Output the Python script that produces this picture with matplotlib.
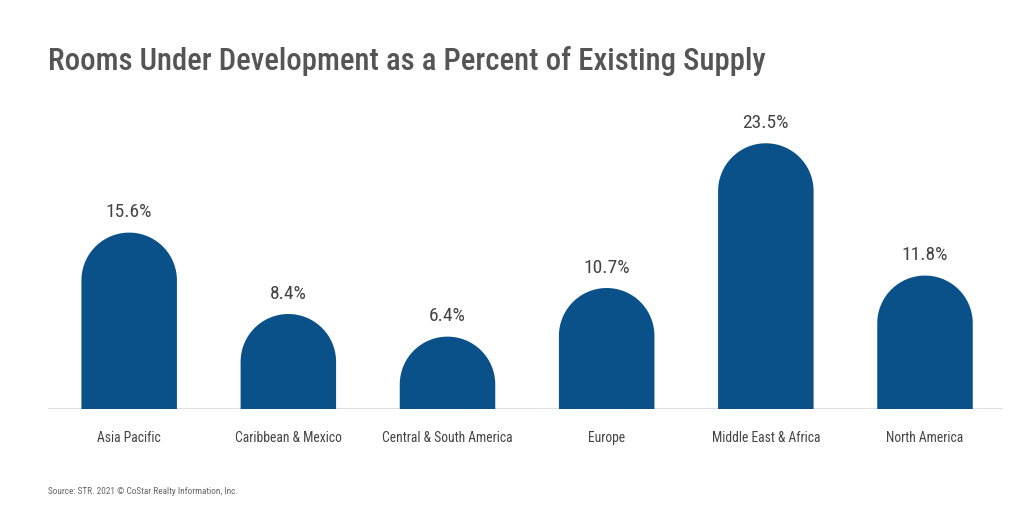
import numpy as np
import matplotlib
matplotlib.use("Agg")
import matplotlib.pyplot as plt
from matplotlib import font_manager as fm
from matplotlib.patches import Polygon

categories = ["Asia Pacific", "Caribbean & Mexico", "Central & South America",
              "Europe", "Middle East & Africa", "North America"]
values = [15.6, 8.4, 6.4, 10.7, 23.5, 11.8]
title = "Rooms Under Development as a Percent of Existing Supply"
source = "Source: STR. 2021 \u00a9 CoStar Realty Information, Inc."

BAR_COLOR = "#0b5189"
TEXT_GRAY = "#555555"

# pick a narrow family if one is installed
names = {f.name for f in fm.fontManager.ttflist}
family = "DejaVu Sans"
stretch = "normal"
for n in ["Roboto Condensed", "Liberation Sans Narrow", "Open Sans Condensed"]:
    if n in names:
        family = n
        break
else:
    if any(f.name == "DejaVu Sans" and f.stretch == "condensed" for f in fm.fontManager.ttflist):
        stretch = "condensed"

fig = plt.figure(figsize=(10.24, 5.09), dpi=100)
ax = fig.add_axes([48 / 1024, 100 / 509, 955 / 1024, 294 / 509])
ax.set_xlim(-0.51, 5.49)
ax.set_ylim(0, 26)
ax.axis("off")
ax.axhline(0, color="#d9d9d9", lw=1.2, zorder=1)

renderer = fig.canvas.get_renderer()


def fit_width(t, target_px):
    # scale font size so the text spans target_px
    for _ in range(3):
        w = t.get_window_extent(renderer).width
        t.set_fontsize(t.get_fontsize() * target_px / w)


# rounded top bars
width = 0.6
px_per_x = ax.transData.transform((1, 0))[0] - ax.transData.transform((0, 0))[0]
px_per_y = ax.transData.transform((0, 1))[1] - ax.transData.transform((0, 0))[1]
ry = (width / 2) * px_per_x / px_per_y
theta = np.linspace(np.pi, 0, 60)
for i, v in enumerate(values):
    x0, x1 = i - width / 2, i + width / 2
    yc = v - ry
    arc = np.column_stack([i + width / 2 * np.cos(theta), yc + ry * np.sin(theta)])
    pts = np.vstack([[x0, 0], arc, [x1, 0]])
    ax.add_patch(Polygon(pts, closed=True, facecolor=BAR_COLOR, edgecolor="none", zorder=2))
    ax.annotate(f"{v}%", (i, v), xytext=(0, 14.5), textcoords="offset points",
                ha="center", va="center", fontsize=14, color="#444444",
                family=family, stretch=stretch)

for i, c in enumerate(categories):
    ax.annotate(c, (i, 0), xytext=(0, -21), textcoords="offset points",
                ha="center", va="center", fontsize=9.8, color="#444444",
                family=family, stretch=stretch)

tt = fig.text(48 / 1024, 1 - 61 / 509, title, ha="left", va="center",
              fontsize=24, color=TEXT_GRAY, weight="medium",
              family=family, stretch=stretch)
fit_width(tt, 717)

st = fig.text(48 / 1024, 1 - 492 / 509, source, ha="left", va="center",
              fontsize=7, color="#666666", family=family, stretch=stretch)
fit_width(st, 189)

fig.savefig("out.png", dpi=100, facecolor="white")
